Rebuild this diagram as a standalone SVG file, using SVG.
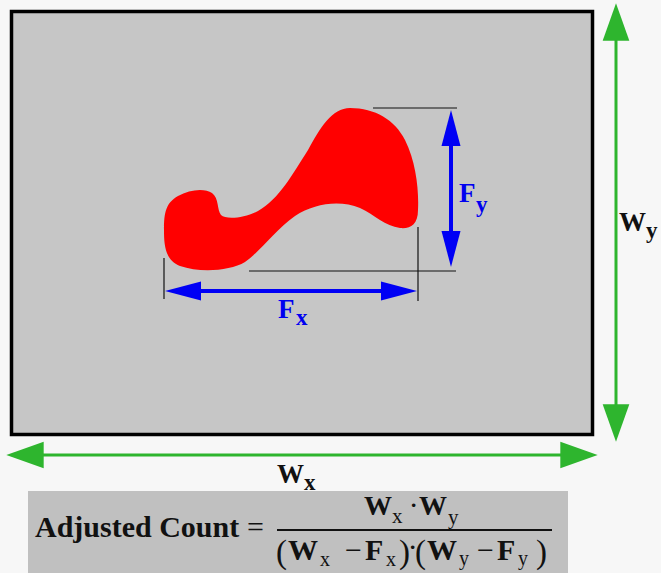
<svg xmlns="http://www.w3.org/2000/svg" width="661" height="573" viewBox="0 0 661 573">
<style>
.bg{fill:#f7f7f7}
.frame{fill:#c6c6c6;stroke:#000;stroke-width:3.5}
.gline{stroke:#2eb52e;stroke-width:3;fill:none}
.bline{stroke:#0000f5;stroke-width:4;fill:none}
.tick{stroke:#111;stroke-width:1.2}
.blob{fill:#ff0000}
.lbl{font-family:"Liberation Serif","DejaVu Serif",serif;font-weight:bold}
.blue{fill:#0000f0}
.blk{fill:#111}
.fm{font-family:"Liberation Serif","DejaVu Serif",serif;fill:#111}
.b{font-weight:bold}
</style>
<defs>
<marker id="ga" markerUnits="userSpaceOnUse" orient="auto-start-reverse" refX="8" refY="0" markerWidth="40" markerHeight="40" viewBox="0 -12 30 24" overflow="visible">
<path d="M0,-10 L28,0 L0,10 Z" fill="#2eb52e"/>
</marker>
<marker id="ba" markerUnits="userSpaceOnUse" orient="auto-start-reverse" refX="16" refY="0" markerWidth="40" markerHeight="40" viewBox="0 -12 40 24" overflow="visible">
<path d="M0,-9.5 L36,0 L0,9.5 Z" fill="#0000f5"/>
</marker>
</defs>
<rect class="bg" x="0" y="0" width="661" height="573"/>
<g id="window">
<rect class="frame" x="11.5" y="11.5" width="581" height="423"/>
</g>
<g id="feature">
<path class="blob" d="M350,108 C375,108 395,120 405,140 C416,162 419,190 418,210 C418,225 410,229 400,228 C385,226 375,215 360,208 C340,200 315,203 295,216 C275,230 262,250 245,262 C230,271 200,273 180,266 C165,260 164,245 164,230 C164,212 166,203 178,196 C190,189 205,188 212,193 C219,198 217,210 221,215 C226,220 245,218 258,211 C280,198 292,175 308,150 C320,128 332,108 350,108 Z"/>
</g>
<g id="connectors">
<line class="tick" x1="164" y1="258" x2="164" y2="299"/>
<line class="tick" x1="418" y1="227" x2="418" y2="301"/>
<line class="tick" x1="373" y1="108" x2="457" y2="108"/>
<line class="tick" x1="249" y1="271" x2="456" y2="271"/>
<line class="bline" x1="185" y1="291" x2="397" y2="291" marker-start="url(#ba)" marker-end="url(#ba)"/>
<line class="bline" x1="451" y1="130" x2="451" y2="247" marker-start="url(#ba)" marker-end="url(#ba)"/>
<line class="gline" x1="33" y1="455" x2="571" y2="455" marker-start="url(#ga)" marker-end="url(#ga)"/>
<line class="gline" x1="616" y1="30" x2="616" y2="415" marker-start="url(#ga)" marker-end="url(#ga)"/>
</g>
<g id="labels">
<text class="lbl blue" x="278" y="318" font-size="27">F</text>
<text class="lbl blue" x="296" y="325" font-size="23">x</text>
<text class="lbl blue" x="459" y="202" font-size="27">F</text>
<text class="lbl blue" x="476" y="212" font-size="23">y</text>
<text class="lbl blk" x="277" y="483" font-size="27">W</text>
<text class="lbl blk" x="304" y="490" font-size="23">x</text>
<text class="lbl blk" x="619" y="231" font-size="27">W</text>
<text class="lbl blk" x="646" y="238" font-size="23">y</text>
</g>
<g id="formula">
<rect x="28" y="491" width="540" height="82" fill="#c0c0c0"/>
<text class="fm b" x="35" y="537" font-size="30">Adjusted Count</text>
<text class="fm" x="247" y="537" font-size="30">=</text>
<line x1="277" y1="530" x2="552" y2="530" stroke="#111" stroke-width="2"/>
<text class="fm b" x="364" y="515" font-size="28">W</text>
<text class="fm" x="392" y="523" font-size="21">x</text>
<text class="fm b" x="410" y="512" font-size="22">·</text>
<text class="fm b" x="419" y="515" font-size="28">W</text>
<text class="fm" x="448" y="524" font-size="21">y</text>
<text class="fm" x="276" y="563" font-size="33">(</text>
<text class="fm b" x="288" y="560" font-size="30">W</text>
<text class="fm" x="320" y="566" font-size="20">x</text>
<text class="fm" x="345" y="560" font-size="30">−</text>
<text class="fm b" x="365" y="560" font-size="30">F</text>
<text class="fm" x="386" y="566" font-size="20">x</text>
<text class="fm" x="399" y="563" font-size="33">)</text>
<text class="fm b" x="409" y="554" font-size="22">·</text>
<text class="fm" x="415" y="563" font-size="33">(</text>
<text class="fm b" x="427" y="560" font-size="30">W</text>
<text class="fm" x="459" y="565" font-size="20">y</text>
<text class="fm" x="477" y="560" font-size="30">−</text>
<text class="fm b" x="497" y="560" font-size="30">F</text>
<text class="fm" x="518" y="565" font-size="20">y</text>
<text class="fm" x="536" y="563" font-size="33">)</text>
</g>
</svg>
